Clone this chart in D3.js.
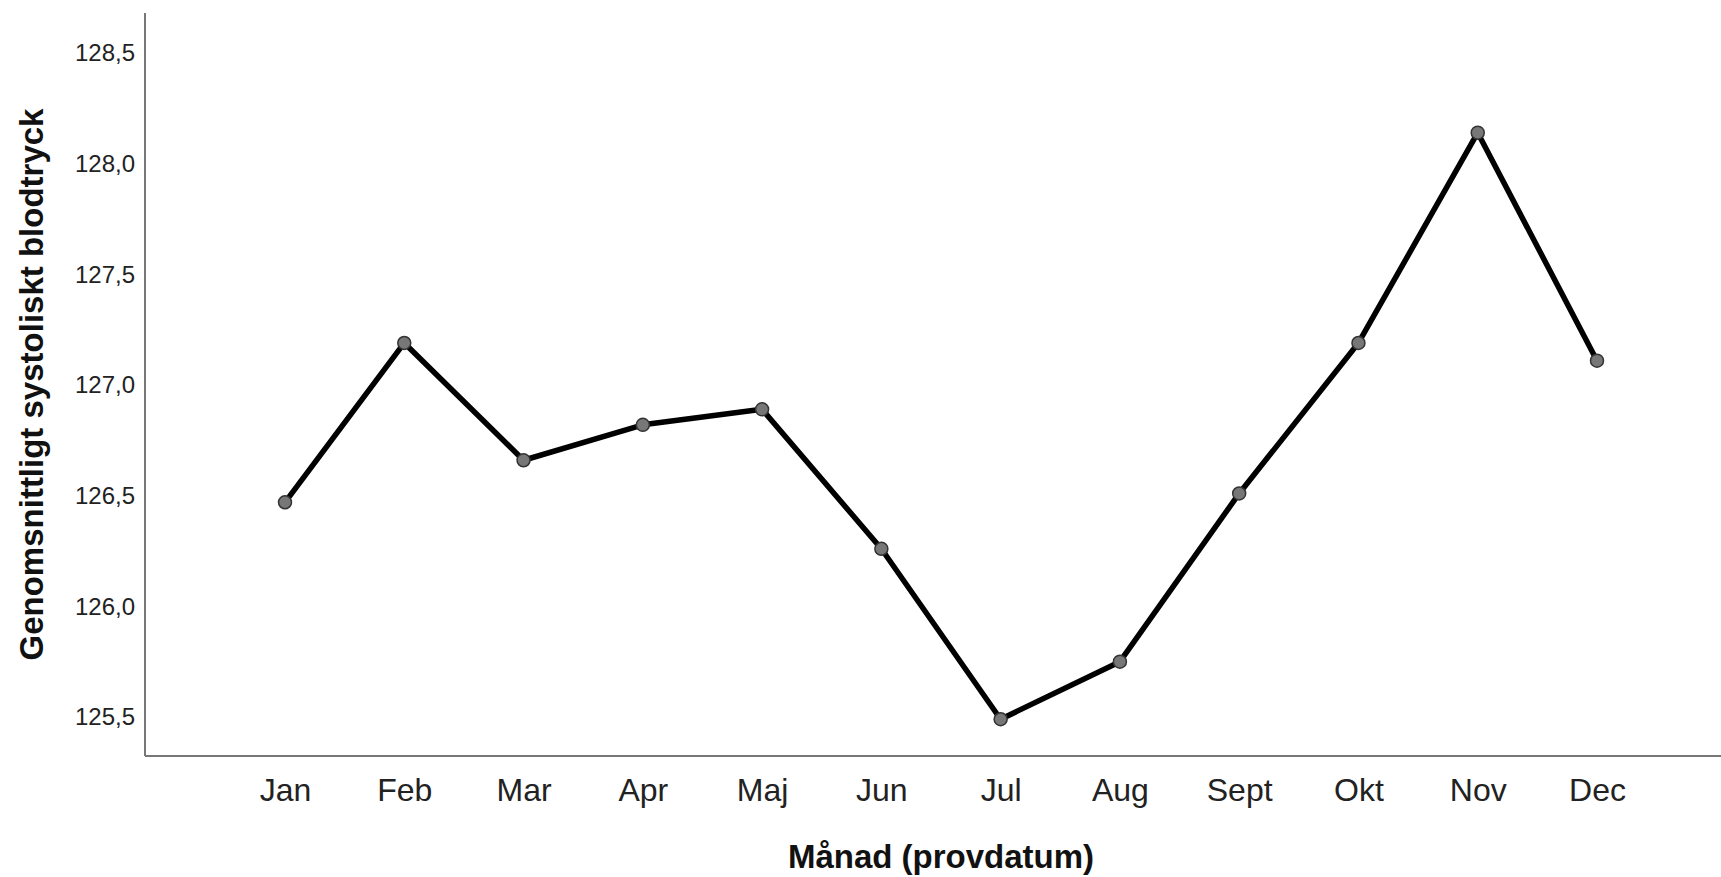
<!DOCTYPE html>
<html>
<head>
<meta charset="utf-8">
<script src="https://cdn.jsdelivr.net/npm/d3@7"></script>
<style>
  html, body { margin: 0; padding: 0; background: #fff; }
  svg { display: block; }
</style>
</head>
<body>
<svg id="chart" width="1721" height="877"></svg>
<script>
const months = ["Jan","Feb","Mar","Apr","Maj","Jun","Jul","Aug","Sept","Okt","Nov","Dec"];
const meanSBP = [126.47, 127.19, 126.66, 126.82, 126.89, 126.26, 125.49, 125.75, 126.51, 127.19, 128.14, 127.11];
const yTicks = [125.5, 126.0, 126.5, 127.0, 127.5, 128.0, 128.5];
const yTitle = "Genomsnittligt systoliskt blodtryck";
const xTitle = "Månad (provdatum)";

const W = 1721, H = 877;
const axisX = 145, axisY = 756, topY = 13;
const font = "Liberation Sans, Arial, sans-serif";

const svg = d3.select("#chart");

const x = d3.scalePoint().domain(months).range([285, 1597]);
const y = d3.scaleLinear().domain([125.5, 128.5]).range([717, 53]);

// axes lines
svg.append("line")
  .attr("x1", axisX).attr("x2", axisX)
  .attr("y1", topY).attr("y2", axisY)
  .attr("stroke", "#777").attr("stroke-width", 2);
svg.append("line")
  .attr("x1", axisX).attr("x2", W)
  .attr("y1", axisY).attr("y2", axisY)
  .attr("stroke", "#777").attr("stroke-width", 2);

// y axis labels
const yAxis = d3.axisLeft(y).tickValues(yTicks).tickSize(0).tickPadding(10)
  .tickFormat(d => d3.format(".1f")(d).replace(".", ","));
const gy = svg.append("g").attr("transform", `translate(${axisX},0)`).call(yAxis);
gy.select(".domain").remove();
gy.selectAll("text").attr("font-family", font)
  .attr("font-size", 24).attr("fill", "#222");

// x axis labels
const xAxis = d3.axisBottom(x).tickSize(0).tickPadding(0);
const gx = svg.append("g").attr("transform", `translate(0,${axisY})`).call(xAxis);
gx.select(".domain").remove();
gx.selectAll("text").attr("font-family", font)
  .attr("font-size", 32).attr("fill", "#222")
  .attr("dy", null).attr("y", 45);

// line
const line = d3.line().x((d, i) => x(months[i])).y(d => y(d));
svg.append("path").datum(meanSBP)
  .attr("d", line).attr("fill", "none")
  .attr("stroke", "#000").attr("stroke-width", 5.5)
  .attr("stroke-linejoin", "round");

svg.selectAll("circle.pt").data(meanSBP).join("circle")
  .attr("class", "pt")
  .attr("cx", (d, i) => x(months[i])).attr("cy", d => y(d))
  .attr("r", 6.5).attr("fill", "#777").attr("stroke", "#333").attr("stroke-width", 1.5);

// titles
svg.append("text")
  .attr("transform", `translate(43,${(topY + axisY) / 2}) rotate(-90)`)
  .attr("text-anchor", "middle")
  .attr("font-family", font)
  .attr("font-weight", "bold").attr("font-size", 33).attr("fill", "#111")
  .text(yTitle);

svg.append("text")
  .attr("x", 941).attr("y", 868)
  .attr("text-anchor", "middle")
  .attr("font-family", font)
  .attr("font-weight", "bold").attr("font-size", 33).attr("fill", "#111")
  .text(xTitle);
</script>
</body>
</html>
